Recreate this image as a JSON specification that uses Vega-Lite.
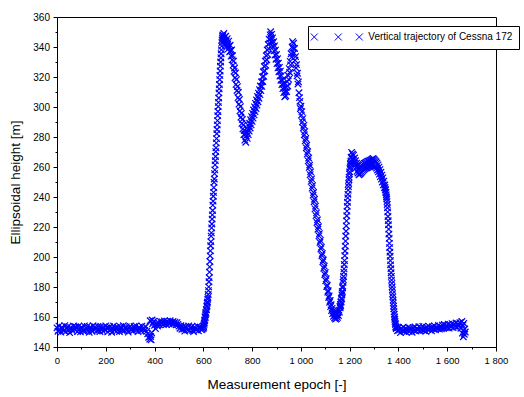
{
"$schema": "https://vega.github.io/schema/vega-lite/v6.json",
"width": 439, "height": 330,
"autosize": {"type": "none"},
"padding": {"left": 57, "top": 17, "right": 28, "bottom": 50},
"background": "white",
"config": {
 "view": {"stroke": "#000", "strokeWidth": 1},
 "font": "Liberation Sans",
 "axis": {"labelColor": "#000", "tickColor": "#000", "domainColor": "#000", "titleColor": "#000", "labelFont": "Liberation Sans", "titleFont": "Liberation Sans", "titleFontWeight": "normal", "grid": false, "tickWidth": 1, "domainWidth": 1}
},
"data": {"values": [
{"e":0,"h":152.8},{"e":4,"h":150.5},{"e":8,"h":153.9},{"e":12,"h":151.6},{"e":16,"h":149.9},{"e":20,"h":153.2},{"e":24,"h":152.3},{"e":28,"h":151.0},{"e":32,"h":154.3},{"e":36,"h":150.2},{"e":40,"h":152.6},{"e":44,"h":153.5},{"e":48,"h":151.3},{"e":52,"h":149.6},{"e":56,"h":153.0},{"e":60,"h":152.1},{"e":64,"h":150.7},{"e":68,"h":154.0},{"e":72,"h":151.8},{"e":76,"h":153.6},
{"e":80,"h":152.9},{"e":84,"h":150.3},{"e":88,"h":153.7},{"e":92,"h":151.9},{"e":96,"h":150.1},{"e":100,"h":153.0},{"e":104,"h":152.5},{"e":108,"h":150.8},{"e":112,"h":154.1},{"e":116,"h":150.6},{"e":120,"h":152.4},{"e":124,"h":153.8},{"e":128,"h":151.1},{"e":132,"h":149.8},{"e":136,"h":153.3},{"e":140,"h":151.9},{"e":144,"h":150.5},{"e":148,"h":154.2},{"e":152,"h":151.6},{"e":156,"h":153.4},
{"e":160,"h":152.4},{"e":164,"h":150.9},{"e":168,"h":153.7},{"e":172,"h":151.2},{"e":176,"h":150.3},{"e":180,"h":153.8},{"e":184,"h":152.0},{"e":188,"h":150.6},{"e":192,"h":153.1},{"e":196,"h":151.5},{"e":200,"h":154.1},{"e":204,"h":152.7},{"e":208,"h":150.1},{"e":212,"h":152.9},{"e":216,"h":153.6},{"e":220,"h":151.4},{"e":224,"h":149.8},{"e":228,"h":152.5},{"e":232,"h":154.0},{"e":236,"h":151.1},
{"e":240,"h":152.8},{"e":244,"h":150.4},{"e":248,"h":153.3},{"e":252,"h":151.9},{"e":256,"h":150.2},{"e":260,"h":153.5},{"e":264,"h":152.2},{"e":268,"h":151.0},{"e":272,"h":154.2},{"e":276,"h":150.8},{"e":280,"h":152.6},{"e":284,"h":153.4},{"e":288,"h":151.5},{"e":292,"h":149.9},{"e":296,"h":152.9},{"e":300,"h":153.8},{"e":304,"h":151.2},{"e":308,"h":152.3},{"e":312,"h":150.6},{"e":316,"h":153.7},
{"e":320,"h":152.0},{"e":324,"h":154.1},{"e":328,"h":151.4},{"e":332,"h":150.3},{"e":336,"h":153.0},{"e":340,"h":152.5},{"e":344,"h":150.9},{"e":348,"h":153.9},{"e":352,"h":151.7},{"e":356,"h":152.8},{"e":360,"h":151.0},{"e":364,"h":153.6},{"e":368,"h":150.4},{"e":372,"h":148.8},{"e":376,"h":146.5},{"e":380,"h":145.2},{"e":382,"h":157.5},{"e":384,"h":147.0},{"e":386,"h":144.8},{"e":388,"h":149.5},{"e":390,"h":158.0},{"e":392,"h":155.5},{"e":396,"h":157.0},
{"e":400,"h":154.5},{"e":404,"h":152.2},{"e":408,"h":155.3},{"e":412,"h":154.0},{"e":416,"h":156.2},{"e":420,"h":154.8},{"e":424,"h":157.1},{"e":428,"h":155.6},{"e":432,"h":156.8},{"e":436,"h":155.0},{"e":440,"h":157.4},{"e":444,"h":156.1},{"e":448,"h":154.9},{"e":452,"h":157.2},{"e":456,"h":156.0},{"e":460,"h":155.3},{"e":464,"h":157.5},{"e":468,"h":156.4},{"e":472,"h":155.1},{"e":476,"h":157.0},
{"e":480,"h":155.8},{"e":484,"h":156.6},{"e":488,"h":154.7},{"e":492,"h":156.3},{"e":496,"h":155.0},{"e":500,"h":153.9},{"e":504,"h":152.5},{"e":508,"h":154.2},{"e":512,"h":151.8},{"e":516,"h":153.4},{"e":520,"h":152.0},{"e":524,"h":150.6},{"e":528,"h":153.7},{"e":532,"h":152.4},{"e":536,"h":151.3},{"e":540,"h":154.0},{"e":544,"h":150.9},{"e":548,"h":152.8},{"e":552,"h":153.5},{"e":556,"h":151.1},
{"e":560,"h":150.2},{"e":564,"h":153.3},{"e":568,"h":152.2},{"e":572,"h":151.5},{"e":576,"h":153.9},{"e":580,"h":150.7},{"e":584,"h":152.6},{"e":588,"h":153.2},{"e":592,"h":151.4},{"e":596,"h":152.0},
{"e":600,"h":152.5},{"e":601,"h":154.0},{"e":602,"h":153.2},{"e":603,"h":155.1},{"e":604,"h":156.0},{"e":605,"h":157.4},{"e":606,"h":158.0},{"e":607,"h":160.2},{"e":608,"h":159.6},{"e":609,"h":161.5},{"e":610,"h":163.0},{"e":611,"h":162.4},{"e":612,"h":164.8},{"e":613,"h":165.1},{"e":614,"h":166.9},{"e":615,"h":167.5},{"e":616,"h":169.2},{"e":617,"h":170.0},{"e":618,"h":171.8},{"e":619,"h":173.1},
{"e":620,"h":175.0},{"e":621,"h":177.6},{"e":622,"h":180.1},{"e":623,"h":183.5},{"e":624,"h":186.2},{"e":625,"h":189.9},{"e":626,"h":193.4},{"e":627,"h":197.0},{"e":628,"h":200.8},{"e":629,"h":204.1},{"e":630,"h":207.5},{"e":631,"h":210.2},{"e":632,"h":213.9},{"e":633,"h":216.1},{"e":634,"h":219.4},{"e":635,"h":222.0},{"e":636,"h":225.3},{"e":637,"h":228.1},{"e":638,"h":231.0},{"e":639,"h":234.6},
{"e":640,"h":237.2},{"e":641,"h":240.5},{"e":642,"h":243.1},{"e":643,"h":246.3},{"e":644,"h":249.8},{"e":645,"h":252.0},{"e":646,"h":255.6},{"e":647,"h":258.1},{"e":648,"h":261.4},{"e":649,"h":264.2},{"e":650,"h":267.0},{"e":651,"h":270.3},{"e":652,"h":272.8},{"e":653,"h":276.1},{"e":654,"h":278.9},{"e":655,"h":282.2},{"e":656,"h":285.0},{"e":657,"h":288.1},{"e":658,"h":290.9},{"e":659,"h":294.2},
{"e":660,"h":297.0},{"e":661,"h":300.3},{"e":662,"h":303.1},{"e":663,"h":306.0},{"e":664,"h":309.4},{"e":665,"h":312.1},{"e":666,"h":315.0},{"e":667,"h":318.3},{"e":668,"h":321.1},{"e":669,"h":324.0},{"e":670,"h":327.2},{"e":671,"h":330.0},{"e":672,"h":332.8},{"e":673,"h":335.5},{"e":674,"h":338.1},{"e":675,"h":340.6},{"e":676,"h":342.9},{"e":677,"h":344.7},{"e":678,"h":346.0},{"e":679,"h":347.2},{"e":680,"h":348.0},
{"e":682,"h":345.2},{"e":684,"h":349.0},{"e":686,"h":343.8},{"e":688,"h":346.5},{"e":690,"h":341.9},{"e":692,"h":347.3},{"e":694,"h":344.0},{"e":696,"h":340.2},{"e":698,"h":345.6},{"e":700,"h":342.1},{"e":702,"h":338.7},{"e":704,"h":343.9},{"e":706,"h":340.5},{"e":708,"h":336.8},{"e":710,"h":341.2},{"e":712,"h":337.5},{"e":714,"h":333.9},{"e":716,"h":338.0},{"e":718,"h":331.4},{"e":720,"h":334.2},
{"e":722,"h":327.9},{"e":724,"h":330.6},{"e":726,"h":323.8},{"e":728,"h":326.0},{"e":730,"h":319.5},{"e":732,"h":322.7},{"e":734,"h":315.1},{"e":736,"h":318.3},{"e":738,"h":311.0},{"e":740,"h":313.6},{"e":742,"h":306.2},{"e":744,"h":309.8},{"e":746,"h":301.9},{"e":748,"h":305.0},{"e":750,"h":297.4},{"e":752,"h":300.3},{"e":754,"h":293.2},{"e":756,"h":295.8},{"e":758,"h":289.1},{"e":760,"h":291.7},
{"e":762,"h":285.4},{"e":764,"h":288.0},{"e":766,"h":281.6},{"e":768,"h":284.3},{"e":770,"h":277.9},{"e":772,"h":282.0},{"e":774,"h":276.5},{"e":776,"h":280.8},{"e":778,"h":283.2},{"e":780,"h":279.1},{"e":782,"h":285.0},{"e":784,"h":281.6},{"e":786,"h":287.4},{"e":788,"h":283.9},{"e":790,"h":289.2},{"e":792,"h":286.0},{"e":794,"h":291.5},{"e":796,"h":288.1},{"e":798,"h":293.6},{"e":800,"h":290.4},
{"e":802,"h":295.8},{"e":804,"h":292.6},{"e":806,"h":298.0},{"e":808,"h":294.7},{"e":810,"h":300.1},{"e":812,"h":296.9},{"e":814,"h":302.4},{"e":816,"h":299.0},{"e":818,"h":304.7},{"e":820,"h":301.2},{"e":822,"h":307.0},{"e":824,"h":303.5},{"e":826,"h":309.3},{"e":828,"h":305.8},{"e":830,"h":311.6},{"e":832,"h":308.2},{"e":834,"h":314.0},{"e":836,"h":310.9},{"e":838,"h":316.8},{"e":840,"h":313.7},
{"e":842,"h":320.1},{"e":844,"h":317.0},{"e":846,"h":323.5},{"e":848,"h":320.4},{"e":850,"h":327.0},{"e":852,"h":324.1},{"e":854,"h":330.6},{"e":856,"h":327.8},{"e":858,"h":334.2},{"e":860,"h":331.5},{"e":862,"h":338.0},{"e":864,"h":335.1},{"e":866,"h":341.7},{"e":868,"h":338.9},{"e":870,"h":345.2},{"e":872,"h":342.6},{"e":874,"h":348.1},{"e":876,"h":350.2},{"e":878,"h":345.8},{"e":880,"h":348.4},
{"e":882,"h":343.0},{"e":884,"h":346.1},{"e":886,"h":340.2},{"e":888,"h":343.5},{"e":890,"h":337.4},{"e":892,"h":340.8},{"e":894,"h":334.6},{"e":896,"h":337.9},{"e":898,"h":331.8},{"e":900,"h":335.0},{"e":902,"h":328.9},{"e":904,"h":332.2},{"e":906,"h":326.1},{"e":908,"h":329.3},{"e":910,"h":323.5},{"e":912,"h":326.4},{"e":914,"h":320.6},{"e":916,"h":323.9},{"e":918,"h":317.8},{"e":920,"h":320.9},
{"e":922,"h":314.9},{"e":924,"h":318.0},{"e":926,"h":312.2},{"e":928,"h":315.3},{"e":930,"h":309.6},{"e":932,"h":312.7},{"e":934,"h":306.8},{"e":936,"h":310.1},{"e":938,"h":307.5},{"e":940,"h":313.0},{"e":942,"h":310.2},{"e":944,"h":316.8},{"e":946,"h":314.0},{"e":948,"h":321.0},{"e":950,"h":318.4},{"e":952,"h":325.6},{"e":954,"h":323.0},{"e":956,"h":330.4},{"e":958,"h":328.1},{"e":960,"h":335.5},
{"e":962,"h":333.2},{"e":964,"h":340.0},{"e":966,"h":343.6},{"e":968,"h":339.2},{"e":970,"h":342.5},{"e":972,"h":336.0},{"e":974,"h":339.0},{"e":976,"h":331.2},{"e":978,"h":333.6},{"e":980,"h":326.0},{"e":982,"h":328.2},{"e":984,"h":320.7},{"e":986,"h":322.5},{"e":988,"h":315.3},{"e":990,"h":316.8},
{"e":992,"h":309.5},{"e":994,"h":306.2},{"e":996,"h":303.8},{"e":998,"h":299.0},{"e":1000,"h":300.5},{"e":1002,"h":294.6},{"e":1004,"h":296.9},{"e":1006,"h":290.1},{"e":1008,"h":292.3},{"e":1010,"h":286.0},{"e":1012,"h":287.8},{"e":1014,"h":281.5},{"e":1016,"h":283.6},{"e":1018,"h":277.4},{"e":1020,"h":279.0},{"e":1022,"h":272.8},{"e":1024,"h":274.5},{"e":1026,"h":268.6},{"e":1028,"h":270.2},{"e":1030,"h":264.1},
{"e":1032,"h":266.0},{"e":1034,"h":259.7},{"e":1036,"h":261.3},{"e":1038,"h":254.9},{"e":1040,"h":256.8},{"e":1042,"h":250.4},{"e":1044,"h":252.1},{"e":1046,"h":245.9},{"e":1048,"h":247.6},{"e":1050,"h":241.2},{"e":1052,"h":243.0},{"e":1054,"h":236.8},{"e":1056,"h":238.5},{"e":1058,"h":232.1},{"e":1060,"h":233.9},{"e":1062,"h":227.6},{"e":1064,"h":229.4},{"e":1066,"h":223.0},{"e":1068,"h":224.8},{"e":1070,"h":218.5},
{"e":1072,"h":220.2},{"e":1074,"h":214.1},{"e":1076,"h":215.6},{"e":1078,"h":209.7},{"e":1080,"h":211.1},{"e":1082,"h":205.4},{"e":1084,"h":206.6},{"e":1086,"h":201.0},{"e":1088,"h":202.3},{"e":1090,"h":196.8},{"e":1092,"h":198.0},{"e":1094,"h":192.5},{"e":1096,"h":193.9},{"e":1098,"h":188.3},{"e":1100,"h":189.6},{"e":1102,"h":184.2},{"e":1104,"h":185.4},{"e":1106,"h":180.3},{"e":1108,"h":181.2},{"e":1110,"h":176.6},
{"e":1112,"h":177.5},{"e":1114,"h":173.0},{"e":1116,"h":174.1},{"e":1118,"h":169.8},{"e":1120,"h":171.0},{"e":1122,"h":166.9},{"e":1124,"h":168.2},{"e":1126,"h":164.3},{"e":1128,"h":165.8},{"e":1130,"h":162.2},{"e":1132,"h":163.9},{"e":1134,"h":160.5},{"e":1136,"h":162.4},{"e":1138,"h":159.3},{"e":1140,"h":161.2},{"e":1142,"h":158.6},{"e":1144,"h":160.8},{"e":1146,"h":158.9},{"e":1148,"h":161.5},{"e":1150,"h":159.7},
{"e":1152,"h":162.8},{"e":1154,"h":161.0},{"e":1156,"h":164.6},{"e":1158,"h":163.2},{"e":1160,"h":167.0},
{"e":1161,"h":166.1},{"e":1162,"h":168.4},{"e":1163,"h":167.5},{"e":1164,"h":169.9},{"e":1165,"h":170.2},{"e":1166,"h":172.6},{"e":1167,"h":172.0},{"e":1168,"h":174.8},{"e":1169,"h":176.1},{"e":1170,"h":177.0},{"e":1171,"h":179.5},{"e":1172,"h":180.6},{"e":1173,"h":183.2},{"e":1174,"h":184.9},{"e":1175,"h":187.0},{"e":1176,"h":189.8},{"e":1177,"h":192.1},{"e":1178,"h":195.0},{"e":1179,"h":197.6},{"e":1180,"h":200.9},
{"e":1181,"h":204.0},{"e":1182,"h":207.3},{"e":1183,"h":210.6},{"e":1184,"h":214.0},{"e":1185,"h":217.2},{"e":1186,"h":220.8},{"e":1187,"h":224.1},{"e":1188,"h":227.5},{"e":1189,"h":230.6},{"e":1190,"h":233.8},{"e":1191,"h":236.5},{"e":1192,"h":239.4},{"e":1193,"h":241.8},{"e":1194,"h":244.6},{"e":1195,"h":246.9},{"e":1196,"h":249.0},{"e":1197,"h":251.5},{"e":1198,"h":253.2},{"e":1199,"h":255.4},{"e":1200,"h":256.8},
{"e":1201,"h":258.9},{"e":1202,"h":260.1},{"e":1203,"h":261.7},{"e":1204,"h":262.5},{"e":1205,"h":264.0},
{"e":1206,"h":266.5},{"e":1208,"h":269.8},{"e":1210,"h":265.3},{"e":1212,"h":268.7},{"e":1214,"h":264.6},{"e":1216,"h":267.9},{"e":1218,"h":262.8},{"e":1220,"h":266.0},{"e":1222,"h":260.9},{"e":1224,"h":264.2},{"e":1226,"h":259.4},{"e":1228,"h":262.5},{"e":1230,"h":257.1},{"e":1232,"h":260.8},{"e":1234,"h":256.0},{"e":1236,"h":259.2},{"e":1238,"h":254.7},{"e":1240,"h":258.6},{"e":1242,"h":255.3},{"e":1244,"h":259.4},
{"e":1246,"h":256.0},{"e":1248,"h":260.2},{"e":1250,"h":256.7},{"e":1252,"h":261.0},{"e":1254,"h":257.6},{"e":1256,"h":261.8},{"e":1258,"h":258.3},{"e":1260,"h":262.4},{"e":1262,"h":258.9},{"e":1264,"h":262.7},{"e":1266,"h":259.3},{"e":1268,"h":263.1},{"e":1270,"h":259.5},{"e":1272,"h":263.6},{"e":1274,"h":259.8},{"e":1276,"h":263.9},{"e":1278,"h":260.2},{"e":1280,"h":264.1},{"e":1282,"h":260.5},{"e":1284,"h":264.4},
{"e":1286,"h":260.9},{"e":1288,"h":264.8},{"e":1290,"h":261.0},{"e":1292,"h":265.2},{"e":1294,"h":261.4},{"e":1296,"h":265.8},{"e":1298,"h":261.6},{"e":1300,"h":265.0},{"e":1302,"h":260.8},{"e":1304,"h":264.3},{"e":1306,"h":260.1},{"e":1308,"h":263.5},{"e":1310,"h":259.2},{"e":1312,"h":262.6},{"e":1314,"h":258.0},{"e":1316,"h":261.4},{"e":1318,"h":256.7},{"e":1320,"h":259.9},{"e":1322,"h":255.2},{"e":1324,"h":258.3},
{"e":1326,"h":253.6},{"e":1328,"h":256.5},{"e":1330,"h":251.9},{"e":1332,"h":254.6},{"e":1334,"h":250.0},{"e":1336,"h":252.8},{"e":1338,"h":248.1},{"e":1340,"h":250.6},{"e":1342,"h":246.2},{"e":1344,"h":248.0},
{"e":1345,"h":246.3},{"e":1346,"h":245.1},{"e":1347,"h":244.6},{"e":1348,"h":243.2},{"e":1349,"h":242.9},{"e":1350,"h":241.4},{"e":1351,"h":240.0},{"e":1352,"h":238.7},{"e":1353,"h":236.9},{"e":1354,"h":235.0},{"e":1355,"h":232.8},{"e":1356,"h":230.1},{"e":1357,"h":227.0},{"e":1358,"h":224.2},{"e":1359,"h":221.5},{"e":1360,"h":218.6},{"e":1361,"h":215.3},{"e":1362,"h":212.4},{"e":1363,"h":209.1},{"e":1364,"h":206.3},
{"e":1365,"h":203.2},{"e":1366,"h":200.5},{"e":1367,"h":197.6},{"e":1368,"h":194.8},{"e":1369,"h":192.2},{"e":1370,"h":189.5},{"e":1371,"h":187.1},{"e":1372,"h":184.6},{"e":1373,"h":182.4},{"e":1374,"h":180.0},{"e":1375,"h":177.9},{"e":1376,"h":175.6},{"e":1377,"h":173.5},{"e":1378,"h":171.2},{"e":1379,"h":169.4},{"e":1380,"h":167.3},{"e":1381,"h":165.5},{"e":1382,"h":163.4},{"e":1383,"h":161.8},{"e":1384,"h":160.0},
{"e":1385,"h":158.5},{"e":1386,"h":157.1},{"e":1387,"h":155.8},{"e":1388,"h":154.9},{"e":1389,"h":153.6},{"e":1390,"h":153.1},{"e":1391,"h":152.2},{"e":1392,"h":152.8},
{"e":1396,"h":150.8},{"e":1400,"h":153.0},{"e":1404,"h":151.2},{"e":1408,"h":149.6},{"e":1412,"h":152.4},{"e":1416,"h":151.0},{"e":1420,"h":153.3},{"e":1424,"h":150.5},{"e":1428,"h":152.1},{"e":1432,"h":149.9},{"e":1436,"h":151.7},{"e":1440,"h":153.1},{"e":1444,"h":150.3},{"e":1448,"h":152.6},{"e":1452,"h":151.4},{"e":1456,"h":149.8},{"e":1460,"h":152.9},{"e":1464,"h":151.1},{"e":1468,"h":153.4},{"e":1472,"h":150.6},
{"e":1476,"h":152.2},{"e":1480,"h":151.5},{"e":1484,"h":153.6},{"e":1488,"h":150.9},{"e":1492,"h":152.7},{"e":1496,"h":151.3},{"e":1500,"h":153.8},{"e":1504,"h":151.0},{"e":1508,"h":152.5},{"e":1512,"h":150.4},{"e":1516,"h":153.2},{"e":1520,"h":151.8},{"e":1524,"h":153.9},{"e":1528,"h":151.6},{"e":1532,"h":152.8},{"e":1536,"h":150.7},{"e":1540,"h":153.5},{"e":1544,"h":152.0},{"e":1548,"h":154.1},{"e":1552,"h":151.4},
{"e":1556,"h":153.0},{"e":1560,"h":152.3},{"e":1564,"h":154.4},{"e":1568,"h":151.9},{"e":1572,"h":153.6},{"e":1576,"h":152.1},{"e":1580,"h":154.6},{"e":1584,"h":152.4},{"e":1588,"h":155.0},{"e":1592,"h":152.8},{"e":1596,"h":154.3},{"e":1600,"h":153.0},{"e":1604,"h":155.2},{"e":1608,"h":152.6},{"e":1612,"h":154.8},{"e":1616,"h":153.4},{"e":1620,"h":155.6},{"e":1624,"h":152.9},{"e":1628,"h":155.1},{"e":1632,"h":153.7},
{"e":1636,"h":156.0},{"e":1640,"h":153.3},{"e":1644,"h":155.4},{"e":1648,"h":154.0},{"e":1652,"h":156.2},{"e":1656,"h":152.5},{"e":1660,"h":157.0},{"e":1662,"h":149.2},{"e":1664,"h":154.5},{"e":1666,"h":146.8},{"e":1668,"h":155.8},{"e":1670,"h":148.5},{"e":1672,"h":152.0},{"e":1674,"h":150.0}
]},
"layer": [
 {
  "mark": {"type": "point", "shape": "M-1,-1L1,1M-1,1L1,-1", "filled": false, "strokeWidth": 1.2, "size": 42, "opacity": 1},
  "encoding": {
   "x": {"field": "e", "type": "quantitative", "scale": {"domain": [0, 1800], "nice": false, "zero": false},
         "axis": {"values": [0,200,400,600,800,1000,1200,1400,1600,1800], "tickSize": 4, "labelFontSize": 9.5, "labelPadding": 4, "labelExpr": "replace(format(datum.value, ',d'), ',', ' ')", "title": "Measurement epoch [-]", "titleFontSize": 13.5, "titleBaseline": "alphabetic", "titleY": 41, "labelFlush": false, "labelOverlap": false}},
   "y": {"field": "h", "type": "quantitative", "scale": {"domain": [140, 360], "nice": false, "zero": false},
         "axis": {"values": [140,160,180,200,220,240,260,280,300,320,340,360], "tickSize": 4, "labelFontSize": 10, "labelPadding": 3.5, "title": "Ellipsoidal height [m]", "titleFontSize": 13.5, "titleBaseline": "alphabetic", "titleX": -38, "titleY": 165, "titleAngle": -90, "titleAlign": "center", "labelFlush": false, "labelOverlap": false}},
   "color": {"datum": "Vertical trajectory of Cessna 172", "type": "nominal", "scale": {"range": ["#0000ff"]},
             "legend": {"orient": "none", "legendX": 251, "legendY": 9, "title": null, "symbolType": "M-1,-1L1,1M-1,1L1,-1M5.86,-1L7.86,1M5.86,1L7.86,-1M11.86,-1L13.86,1M11.86,1L13.86,-1", "symbolSize": 49, "symbolStrokeWidth": 1, "symbolOffset": -4.7, "labelOffset": 49, "labelFontSize": 10, "labelFont": "Liberation Sans", "labelColor": "#000", "strokeColor": "#000", "fillColor": "#fff", "padding": 6}}
  }
 },
 {
  "mark": {"type": "point", "opacity": 0},
  "encoding": {
   "x": {"field": "e", "type": "quantitative", "scale": {"domain": [0, 1800], "nice": false, "zero": false},
         "axis": {"orient": "bottom", "values": [100,300,500,700,900,1100,1300,1500,1700], "tickSize": 2, "labels": false, "domain": false, "title": null}},
   "y": {"field": "h", "type": "quantitative", "scale": {"domain": [140, 360], "nice": false, "zero": false},
         "axis": {"orient": "left", "values": [150,170,190,210,230,250,270,290,310,330,350], "tickSize": 2, "labels": false, "domain": false, "title": null}}
  }
 }
],
"resolve": {"axis": {"x": "independent", "y": "independent"}}
}
